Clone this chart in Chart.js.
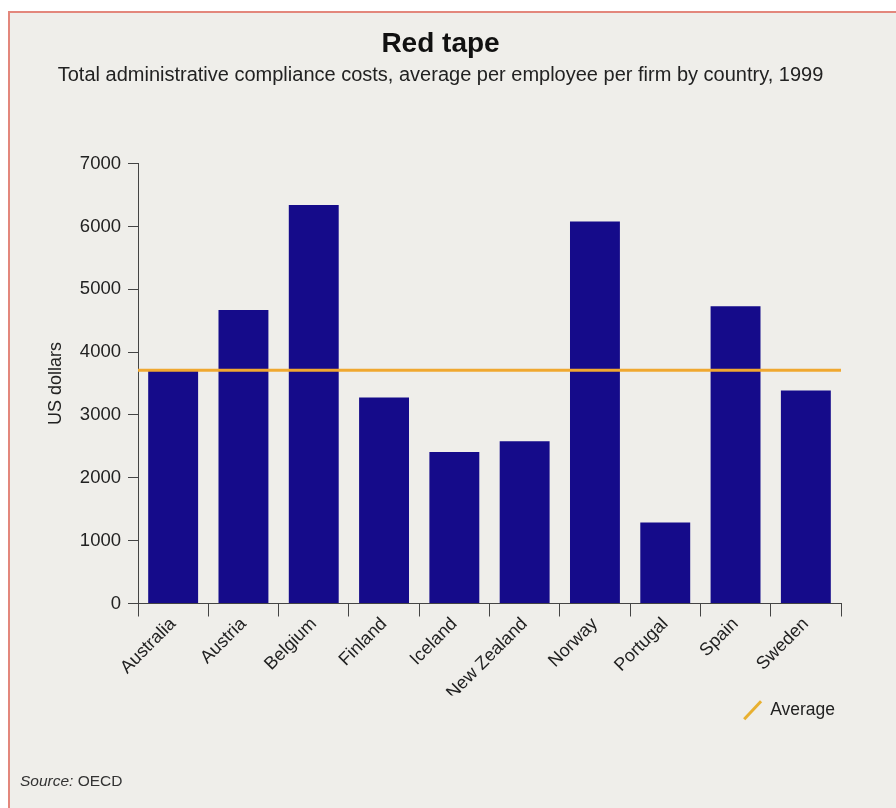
<!DOCTYPE html>
<html>
<head>
<meta charset="utf-8">
<title>Red tape</title>
<script src="https://cdn.jsdelivr.net/npm/chart.js@4/dist/chart.umd.min.js"></script>
<style>
  body { margin: 0; background: #fff; overflow: hidden; font-family: "Liberation Sans", Arial, sans-serif; }
  .frame {
    position: absolute; left: 8px; top: 11px; width: 900px; height: 810px;
    background: #efeeea;
    border-top: 2px solid #e3877c; border-left: 2px solid #e3877c;
  }
  .wrap { position: absolute; left: 0; top: 0; width: 896px; height: 808px; }
  .source { position: absolute; left: 20px; top: 772px; font-size: 15.5px; color: #333; }
</style>
</head>
<body>
<div class="frame"></div>
<div class="wrap"><canvas id="redTapeChart"></canvas></div>
<div class="source"><i>Source:</i> OECD</div>

<script>
// chart data
const countries = ['Australia', 'Austria', 'Belgium', 'Finland', 'Iceland',
                   'New Zealand', 'Norway', 'Portugal', 'Spain', 'Sweden'];
const costs = [3700, 4670, 6340, 3280, 2410, 2580, 6080, 1290, 4730, 3390];

// average line runs across the whole axis (0 .. number of countries)
const avgX = [0, 10];
const avgValues = [3710, 3710];

const yTicks = [0, 1000, 2000, 3000, 4000, 5000, 6000, 7000];

const barColor = '#150b8a';
const avgColor = '#f0a830';
const axisColor = '#444';
const fontFamily = '"Liberation Sans", Arial, sans-serif';

document.addEventListener('DOMContentLoaded', function() {
    renderChart();
});

function renderChart() {
    const ctx = document.getElementById('redTapeChart');

    new Chart(ctx, {
        type: 'bar',
        data: {
            labels: countries,
            datasets: [{
                label: 'US dollars',
                data: costs,
                backgroundColor: barColor,
                borderWidth: 0,
                grouped: false,
                barPercentage: 0.71,
                categoryPercentage: 1.0,
                order: 2
            }, {
                type: 'line',
                label: 'Average',
                xAxisID: 'x2',
                data: avgX.map((x, i) => ({ x: x, y: avgValues[i] })),
                borderColor: avgColor,
                borderWidth: 3,
                pointRadius: 0,
                pointStyle: 'line',
                pointRotation: -47,
                pointBorderColor: '#e8b030',
                pointBorderWidth: 3,
                order: 1
            }]
        },
        options: {
            responsive: true,
            maintainAspectRatio: false,
            animation: false,
            layout: { padding: { top: 17, left: 40, right: 55, bottom: 79 } },
            plugins: {
                title: {
                    display: true,
                    text: 'Red tape',
                    color: '#111',
                    font: { family: fontFamily, size: 28, weight: 'bold' },
                    padding: { top: 10, bottom: 3 }
                },
                subtitle: {
                    display: true,
                    text: 'Total administrative compliance costs, average per employee per firm by country, 1999',
                    color: '#222',
                    font: { family: fontFamily, size: 20 },
                    padding: { top: 0, bottom: 76 }
                },
                legend: {
                    position: 'bottom',
                    align: 'end',
                    labels: {
                        usePointStyle: true,
                        color: '#222',
                        font: { family: fontFamily, size: 17.5 },
                        padding: 6,
                        filter: item => item.datasetIndex === 1
                    }
                },
                tooltip: { enabled: false }
            },
            scales: {
                x: {
                    type: 'category',
                    grid: {
                        offset: true,
                        drawOnChartArea: false,
                        drawTicks: true,
                        tickLength: 13,
                        color: axisColor
                    },
                    border: { display: true, color: axisColor, width: 1 },
                    ticks: {
                        color: '#222',
                        font: { family: fontFamily, size: 18 },
                        minRotation: 45,
                        maxRotation: 45,
                        autoSkip: false,
                        padding: -3
                    },
                    afterFit: scale => { scale.height = 92; }
                },
                x2: {
                    type: 'linear',
                    display: false,
                    offset: false,
                    min: avgX[0],
                    max: avgX[avgX.length - 1]
                },
                y: {
                    min: yTicks[0],
                    max: yTicks[yTicks.length - 1],
                    afterBuildTicks: scale => { scale.ticks = yTicks.map(v => ({ value: v })); },
                    grid: {
                        drawOnChartArea: false,
                        drawTicks: true,
                        tickLength: 10,
                        color: axisColor
                    },
                    border: { display: true, color: axisColor, width: 1 },
                    ticks: {
                        color: '#222',
                        font: { family: fontFamily, size: 18.5 },
                        padding: 7,
                        callback: v => String(v)
                    },
                    title: {
                        display: true,
                        text: 'US dollars',
                        color: '#222',
                        font: { family: fontFamily, size: 18 },
                        padding: { top: 5, bottom: 0 }
                    },
                    afterFit: scale => { scale.width = 98; }
                }
            }
        }
    });
}
</script>
</body>
</html>
